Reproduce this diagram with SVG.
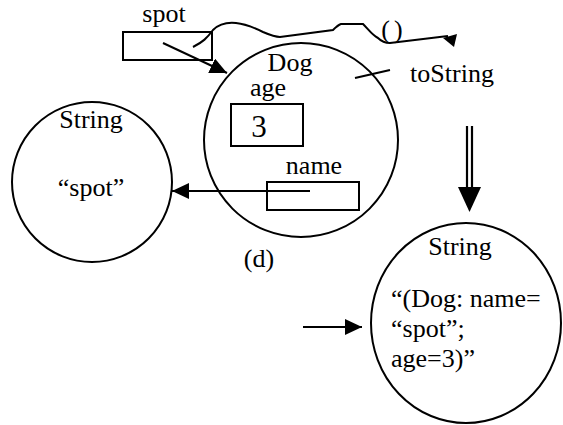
<svg xmlns="http://www.w3.org/2000/svg" width="563" height="425" viewBox="0 0 563 425">
  <style>
    text { font-family: "Liberation Serif", "DejaVu Serif", "Times New Roman", serif; font-size: 26px; fill: #000; }
    .shape { fill: none; stroke: #000; stroke-width: 2; }
    .wire { fill: none; stroke: #000; stroke-width: 2; }
    .mid { text-anchor: middle; }
  </style>
  <defs>
    <marker id="head" markerUnits="userSpaceOnUse" markerWidth="18" markerHeight="16" refX="17" refY="8" orient="auto">
      <path d="M0,0 L17,8 L0,16 Z" fill="#000"/>
    </marker>
  </defs>

  <!-- reference variable "spot" -->
  <g id="spot">
    <text x="164" y="22" class="mid">spot</text>
    <rect class="shape" x="123" y="32" width="89" height="28"/>
  </g>

  <!-- Dog object -->
  <g id="dog">
    <circle class="shape" cx="301" cy="140" r="97"/>
    <text x="290" y="71" class="mid">Dog</text>
    <text x="268" y="96" class="mid">age</text>
    <rect class="shape" x="231" y="104" width="72" height="42"/>
    <text x="259" y="137" class="mid" style="font-size:31px">3</text>
    <text x="314" y="174" class="mid">name</text>
    <rect class="shape" x="267" y="182" width="92" height="28"/>
    <line class="wire" x1="355" y1="78" x2="390" y2="70"/>
  </g>

  <!-- method label -->
  <g id="toString">
    <text x="394" y="38" class="mid" style="letter-spacing:4px">()</text>
    <text x="452" y="82" class="mid">toString</text>
  </g>

  <!-- String "spot" -->
  <g id="string-spot">
    <circle class="shape" cx="92" cy="182" r="80"/>
    <text x="91" y="128" class="mid">String</text>
    <text x="91" y="196" class="mid">“spot”</text>
  </g>

  <!-- resulting String -->
  <g id="string-result">
    <ellipse class="shape" cx="466" cy="323" rx="95" ry="100"/>
    <text x="460" y="255" class="mid">String</text>
    <text x="391" y="307">“(Dog: name=</text>
    <text x="391" y="337">“spot”;</text>
    <text x="391" y="367">age=3)”</text>
  </g>

  <g id="caption">
    <text x="259" y="267" class="mid">(d)</text>
  </g>

  <!-- connectors -->
  <g id="connectors">
    <line class="wire" x1="163" y1="43" x2="227" y2="73" marker-end="url(#head)"/>
    <line class="wire" x1="310" y1="191" x2="172" y2="191" marker-end="url(#head)"/>
    <line class="wire" x1="303" y1="327" x2="362" y2="327" marker-end="url(#head)"/>
    <path class="wire" d="M193,47 C203,42 207,38 213,30 C218,25 226,22 236,23 C246,24 255,28 263,32 C270,35 275,37 280,37 L333,30 C336,27 338,25 341,24 L363,24 C369,30 372,35 378,38 C381,41 385,43 390,43 L448,36"/>
    <polygon points="443,38 457,34 454,47" fill="#000"/>
    <!-- double-shafted implication arrow -->
    <line class="wire" x1="467" y1="126" x2="467" y2="190" style="stroke-width:2.2"/>
    <line class="wire" x1="472" y1="126" x2="472" y2="190" style="stroke-width:2.2"/>
    <polygon points="458,187 481,187 469.5,212" fill="#000"/>
  </g>
</svg>
